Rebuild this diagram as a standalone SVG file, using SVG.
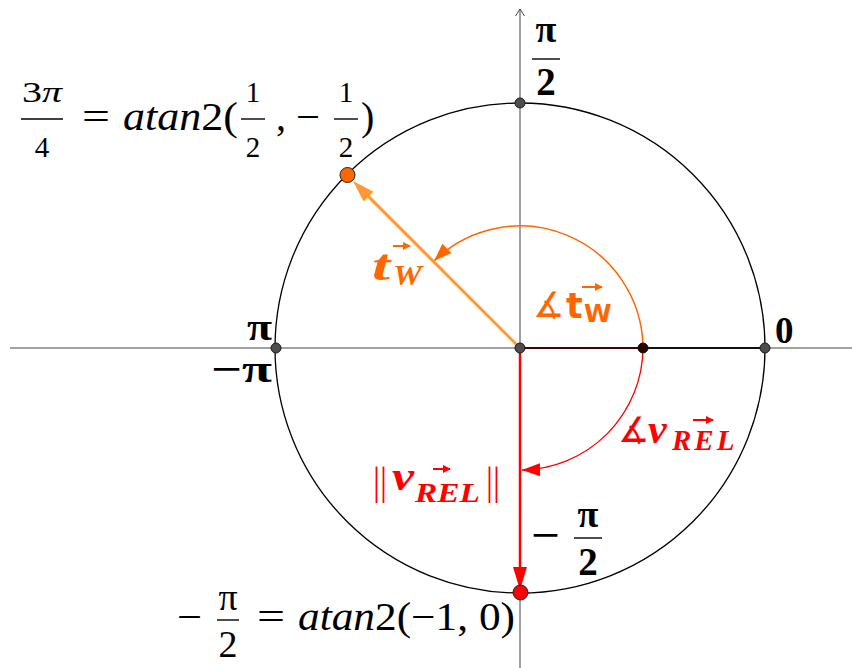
<svg xmlns="http://www.w3.org/2000/svg" width="852" height="668" viewBox="0 0 852 668">
<style>
.ax{stroke:#444;stroke-width:1;fill:none}
.circ{stroke:#000;stroke-width:1.3;fill:none}
.pt{fill:#4d4d4d;stroke:#1a1a1a;stroke-width:1}
.m{font-family:"Liberation Serif",serif}
.k{fill:#000}
.s{font-family:"DejaVu Sans",sans-serif}
.b{font-weight:bold}
.i{font-style:italic}
.c{text-anchor:middle}
.bar{stroke:#000;stroke-width:1.4}
.or{fill:#ff6600}
.rd{fill:#ff0000}
.vo{stroke:#ff6600;stroke-width:2;fill:none;marker-end:url(#hO)}
.vr{stroke:#ff0000;stroke-width:2;fill:none;marker-end:url(#hR)}
</style>
<defs>
<marker id="aOrV" markerUnits="userSpaceOnUse" markerWidth="30" markerHeight="20" viewBox="-1 -10 30 20" refX="0" refY="0" orient="auto"><path d="M0,-7 L22,0 L0,7 z" fill="#ff9933"/></marker>
<marker id="aRdV" markerUnits="userSpaceOnUse" markerWidth="30" markerHeight="20" viewBox="-1 -10 30 20" refX="0" refY="0" orient="auto"><path d="M0,-7 L23,0 L0,7 z" fill="#ff0000"/></marker>
<marker id="aOrA" markerUnits="userSpaceOnUse" markerWidth="22" markerHeight="16" viewBox="-20 -8 22 16" refX="0" refY="0" orient="auto"><path d="M-18,-6.5 L0,0 L-18,6.5 z" fill="#ff6600"/></marker>
<marker id="aRdA" markerUnits="userSpaceOnUse" markerWidth="22" markerHeight="16" viewBox="-20 -8 22 16" refX="0" refY="0" orient="auto"><path d="M-18,-6.5 L0,0 L-18,6.5 z" fill="#ff0000"/></marker>
<marker id="hO" markerUnits="userSpaceOnUse" markerWidth="10" markerHeight="10" viewBox="-8 -5 10 10" refX="0" refY="0" orient="auto"><path d="M-7,-4 L1,0 L-7,4 z" fill="#ff6600"/></marker>
<marker id="hR" markerUnits="userSpaceOnUse" markerWidth="10" markerHeight="10" viewBox="-8 -5 10 10" refX="0" refY="0" orient="auto"><path d="M-7,-4 L1,0 L-7,4 z" fill="#ff0000"/></marker>
</defs>
<rect width="852" height="668" fill="#fff"/>

<g id="axes">
<line class="ax" x1="10" y1="348" x2="852" y2="348"/>
<line class="ax" x1="520" y1="9" x2="520" y2="668"/>
<polyline class="ax" points="515.5,16 520,9 524.5,16"/>
</g>

<g id="unit-circle">
<circle class="circ" cx="520" cy="348" r="245"/>
</g>

<g id="connectors">
<line x1="520" y1="348" x2="765" y2="348" stroke="#111" stroke-width="2"/>
<line x1="520" y1="348" x2="643" y2="348" stroke="#3a0505" stroke-width="2"/>
<path d="M643,348 A123,123 0 0 0 434,261" fill="none" stroke="#ff6600" stroke-width="1.5" marker-end="url(#aOrA)"/>
<path d="M643,348 A123,123 0 0 1 522,470" fill="none" stroke="#ff0000" stroke-width="1.3" marker-end="url(#aRdA)"/>
<line x1="520" y1="348" x2="368.6" y2="196.6" stroke="#ff9933" stroke-width="3" marker-end="url(#aOrV)"/>
<line x1="520" y1="348" x2="520" y2="567" stroke="#ff0000" stroke-width="2.5" marker-end="url(#aRdV)"/>
</g>

<g id="pt-origin"><circle class="pt" cx="520" cy="348" r="5"/></g>
<g id="pt-top"><circle class="pt" cx="520" cy="103" r="5"/></g>
<g id="pt-left"><circle class="pt" cx="276" cy="348" r="5"/></g>
<g id="pt-right"><circle class="pt" cx="765" cy="348" r="5"/></g>
<g id="pt-inner"><circle cx="643" cy="348" r="5" fill="#2a0000" stroke="#111" stroke-width="1"/></g>
<g id="pt-tw"><circle cx="347.5" cy="175" r="7.5" fill="#ff6600" stroke="#222" stroke-width="1"/></g>
<g id="pt-vrel"><circle cx="520.5" cy="592.5" r="7.5" fill="#ff0000" stroke="#222" stroke-width="1"/></g>

<g id="label-top">
<text class="m k b c" x="546" y="42" font-size="38">π</text>
<line class="bar" x1="532" y1="59" x2="560" y2="59" stroke-width="2.5"/>
<text class="m k b c" x="546" y="95" font-size="39">2</text>
</g>
<g id="label-zero"><text class="m k b" x="775" y="343" font-size="37">0</text></g>
<g id="label-pi"><text class="m k b" x="247" y="340" font-size="38" textLength="25" lengthAdjust="spacingAndGlyphs">π</text></g>
<g id="label-minuspi"><text class="m k b" x="211" y="382" font-size="38" textLength="61" lengthAdjust="spacingAndGlyphs">−π</text></g>
<g id="label-minuspi2">
<text class="m k b" x="531" y="548" font-size="38" textLength="29" lengthAdjust="spacingAndGlyphs">−</text>
<text class="m k b c" x="588" y="527" font-size="38">π</text>
<line class="bar" x1="574" y1="538" x2="602" y2="538" stroke-width="2.5"/>
<text class="m k b c" x="588" y="575" font-size="39">2</text>
</g>

<g id="label-3pi4">
<text class="m k" x="22" y="102" font-size="29" textLength="40" lengthAdjust="spacingAndGlyphs">3<tspan class="i">π</tspan></text>
<line class="bar" x1="21" y1="119" x2="63" y2="119"/>
<text class="m k c" x="42" y="157" font-size="29">4</text>
<text class="m k" x="82" y="130" font-size="40" textLength="28" lengthAdjust="spacingAndGlyphs">=</text>
<text class="m k" x="123" y="130" font-size="40" textLength="115" lengthAdjust="spacingAndGlyphs"><tspan class="i">atan</tspan>2(</text>
<text class="m k c" x="253" y="102" font-size="29">1</text>
<line class="bar" x1="241" y1="119" x2="265" y2="119"/>
<text class="m k c" x="253" y="157" font-size="29">2</text>
<text class="m k" x="276" y="130" font-size="40">,</text>
<text class="m k" x="296" y="130" font-size="40" textLength="24" lengthAdjust="spacingAndGlyphs">−</text>
<text class="m k c" x="346" y="102" font-size="29">1</text>
<line class="bar" x1="334" y1="119" x2="358" y2="119"/>
<text class="m k c" x="346" y="157" font-size="29">2</text>
<text class="m k" x="361" y="130" font-size="40">)</text>
</g>

<g id="label-minuspi2-atan">
<text class="m k" x="177" y="630" font-size="40" textLength="25" lengthAdjust="spacingAndGlyphs">−</text>
<text class="m k c" x="228" y="610" font-size="38">π</text>
<line class="bar" x1="217" y1="620" x2="239" y2="620"/>
<text class="m k c" x="228" y="657" font-size="38">2</text>
<text class="m k" x="257" y="630" font-size="40" textLength="28" lengthAdjust="spacingAndGlyphs">=</text>
<text class="m k" x="298" y="630" font-size="40" textLength="217" lengthAdjust="spacingAndGlyphs"><tspan class="i">atan</tspan>2(−1, 0)</text>
</g>

<g id="label-tw">
<text class="m b i or" x="372" y="280" font-size="44" textLength="18" lengthAdjust="spacingAndGlyphs">t</text>
<text class="m b i or" x="393" y="285" font-size="29" textLength="29" lengthAdjust="spacingAndGlyphs">W</text>
<line class="vo" x1="393" y1="246" x2="410" y2="246"/>
</g>

<g id="label-angle-tw">
<text class="s or" x="533" y="317" font-size="35">∡<tspan class="b" x="566" y="318" font-size="35">t</tspan><tspan class="b" x="584" y="322" font-size="25">W</tspan></text>
<line class="vo" x1="582" y1="287" x2="602" y2="287"/>
</g>

<g id="label-angle-vrel">
<text class="s rd" x="618" y="442" font-size="35">∡<tspan class="m b i" x="648" y="443" font-size="42">v</tspan><tspan class="m b i" x="672" y="450" font-size="29" letter-spacing="3">REL</tspan></text>
<line class="vr" x1="693" y1="420" x2="713" y2="420"/>
</g>

<g id="label-norm-vrel">
<text class="m rd" x="373" y="494" font-size="40" textLength="14" lengthAdjust="spacingAndGlyphs">||</text>
<text class="m b i rd" x="392" y="490" font-size="40" textLength="22" lengthAdjust="spacingAndGlyphs">v</text>
<text class="m b i rd" x="415" y="502" font-size="27" textLength="65" lengthAdjust="spacingAndGlyphs">REL</text>
<line class="vr" x1="433" y1="469" x2="450" y2="469"/>
<text class="m rd" x="486" y="494" font-size="40" textLength="14" lengthAdjust="spacingAndGlyphs">||</text>
</g>
</svg>
